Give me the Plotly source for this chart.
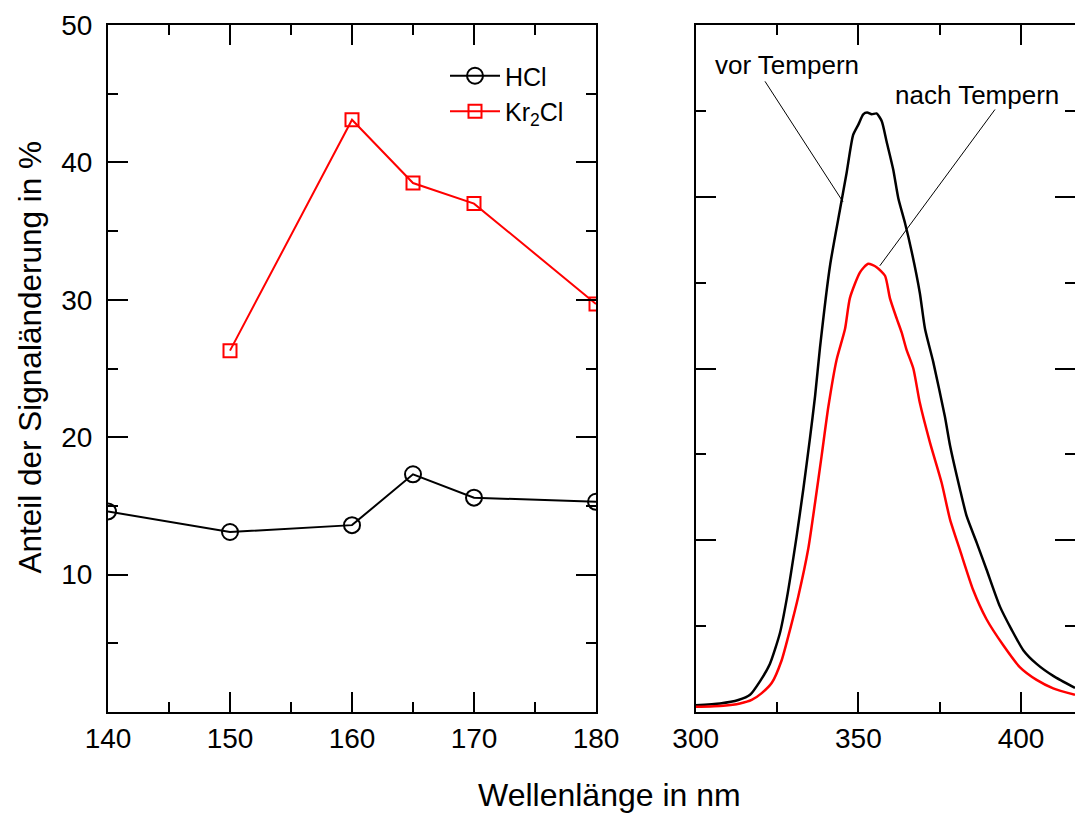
import plotly.graph_objects as go

# left panel: share of signal change (%)
hcl_wl = [140, 150, 160, 165, 170, 180]
hcl_pct = [14.6, 13.1, 13.6, 17.3, 15.6, 15.3]
kr2cl_wl = [150, 160, 165, 170, 180]
kr2cl_pct = [26.3, 43.1, 38.5, 37.0, 29.7]

# right panel: emission spectra before / after annealing
vor_wl = [300, 307.5, 313.1, 316.7, 319.8, 322.8, 325.9, 328, 331, 333.1, 335.1, 336.7,
          338.2, 341.3, 344.4, 346.4, 348.4, 350, 351.5, 352.7, 354.1, 355.6, 357.2,
          358.7, 360.7, 362.3, 364.3, 366.4, 368.9, 370.5, 373, 376.6, 378.2, 381.2,
          383.3, 386.4, 389.4, 393.5, 397.1, 400.7, 404.8, 409.9, 416.6]
vor_int = [0.04, 0.05, 0.07, 0.10, 0.18, 0.28, 0.46, 0.66, 1.02, 1.30, 1.59, 1.84,
           2.12, 2.60, 2.93, 3.14, 3.36, 3.42, 3.48, 3.49, 3.48, 3.485, 3.44,
           3.32, 3.16, 2.99, 2.85, 2.68, 2.44, 2.23, 2.04, 1.72, 1.55, 1.30,
           1.14, 0.985, 0.83, 0.615, 0.48, 0.36, 0.28, 0.21, 0.14]
nach_wl = [300, 308.5, 313.6, 317.2, 320.3, 323.4, 326.4, 329, 331.5, 334.6, 336.7,
           338.7, 340.8, 343.3, 345.9, 347.4, 350.5, 353, 355.6, 358.2, 359.7, 361.8,
           363.3, 364.8, 366.9, 368.9, 372, 375.6, 378.2, 381.2, 385.3, 389.4, 394.5,
           399.7, 404.8, 409.9, 416.6]
nach_int = [0.03, 0.037, 0.05, 0.07, 0.11, 0.17, 0.30, 0.48, 0.67, 0.95, 1.22,
            1.49, 1.78, 2.05, 2.23, 2.41, 2.56, 2.61, 2.59, 2.54, 2.41, 2.29,
            2.21, 2.11, 2.00, 1.80, 1.57, 1.335, 1.12, 0.945, 0.71, 0.54, 0.39,
            0.26, 0.187, 0.138, 0.10]

FONT = "Liberation Sans, Arial, sans-serif"
W, H = 1075, 813
ML, MR, MT, MB = 108, 0, 25, 101
pw, ph = W - ML - MR, H - MT - MB

fig = go.Figure()

fig.add_trace(go.Scatter(x=hcl_wl, y=hcl_pct, name="HCl", mode="lines+markers",
                         line=dict(color="black", width=2),
                         marker=dict(symbol="circle-open", size=16, color="black",
                                     line=dict(width=2, color="black")),
                         xaxis="x", yaxis="y"))
fig.add_trace(go.Scatter(x=kr2cl_wl, y=kr2cl_pct, name="Kr<sub>2</sub>Cl", mode="lines+markers",
                         line=dict(color="#ff0000", width=2),
                         marker=dict(symbol="square-open", size=13, color="#ff0000",
                                     line=dict(width=2, color="#ff0000")),
                         xaxis="x", yaxis="y"))
fig.add_trace(go.Scatter(x=vor_wl, y=vor_int, mode="lines", showlegend=False,
                         line=dict(color="black", width=2.5, shape="spline", smoothing=0.6),
                         xaxis="x2", yaxis="y2"))
fig.add_trace(go.Scatter(x=nach_wl, y=nach_int, mode="lines", showlegend=False,
                         line=dict(color="#ff0000", width=2.5, shape="spline", smoothing=0.6),
                         xaxis="x2", yaxis="y2"))

ax_common = dict(showline=True, linecolor="black", linewidth=2, mirror="ticks",
                 ticks="inside", ticklen=20, tickwidth=2, tickcolor="black",
                 showgrid=False, zeroline=False, automargin=False,
                 tickfont=dict(family=FONT, size=28, color="black"))
minor_common = dict(ticks="inside", ticklen=10, tickwidth=2, tickcolor="black")

left_end = (596 - ML) / pw
right_start = (695.7 - ML) / pw

fig.update_layout(
    width=W, height=H, autosize=False,
    margin=dict(l=ML, r=MR, t=MT, b=MB, autoexpand=False),
    paper_bgcolor="white", plot_bgcolor="white",
    font=dict(family=FONT, color="black"),
    xaxis=dict(domain=[0, left_end], range=[140, 180], tickvals=[140, 150, 160, 170, 180],
               minor=dict(dtick=5, **minor_common),
               ticklabelstandoff=0, anchor="y", **ax_common),
    yaxis=dict(domain=[0, 1], range=[0, 50], tickvals=[10, 20, 30, 40, 50],
               minor=dict(dtick=5, **minor_common),
               ticklabelstandoff=8, anchor="x", **ax_common),
    xaxis2=dict(domain=[right_start, 1], range=[300, 416.6], tickvals=[300, 350, 400],
                minor=dict(dtick=25, **minor_common),
                ticklabelstandoff=0, anchor="y2", **ax_common),
    yaxis2=dict(domain=[0, 1], range=[0, 4], tickvals=[0, 1, 2, 3, 4], showticklabels=False,
                minor=dict(dtick=0.5, **minor_common),
                anchor="x2", **ax_common),
    legend=dict(x=(445 - ML) / pw, y=(712 - 53) / ph, xanchor="left", yanchor="top",
                bgcolor="rgba(0,0,0,0)", font=dict(family=FONT, size=25, color="black"),
                itemwidth=50, tracegroupgap=0),
    showlegend=True,
)

fig.add_annotation(text="Anteil der Signaländerung in %", xref="paper", yref="paper",
                   x=(29 - ML) / pw, y=(712 - 357.5) / ph, textangle=-90, showarrow=False,
                   xanchor="center", yanchor="middle",
                   font=dict(family=FONT, size=31.5, color="black"))
fig.add_annotation(text="Wellenlänge in nm", xref="paper", yref="paper",
                   x=(609 - ML) / pw, y=(712 - 795) / ph, showarrow=False,
                   xanchor="center", yanchor="middle",
                   font=dict(family=FONT, size=32, color="black"))

# curve labels with thin leader lines
fig.add_annotation(text="vor Tempern", xref="x2", yref="y2", x=328.1, y=3.77,
                   showarrow=False, font=dict(family=FONT, size=26, color="black"))
fig.add_shape(type="line", xref="x2", yref="y2", x0=321.3, y0=3.672, x1=345.3, y1=2.97,
              line=dict(color="black", width=1))
fig.add_annotation(text="nach Tempern", xref="x2", yref="y2", x=386.4, y=3.59,
                   showarrow=False, font=dict(family=FONT, size=26, color="black"))
fig.add_shape(type="line", xref="x2", yref="y2", x0=392.0, y0=3.508, x1=356.6, y1=2.598,
              line=dict(color="black", width=1))

# drop the default page margin so the figure fills the 1075x813 window exactly
fix_page = ("document.body.style.margin='0';document.body.style.overflow='hidden';"
            "Plotly.relayout(document.getElementById('{plot_id}'), {width: %d, height: %d});" % (W, H))

fig.write_html("out.html", post_script=fix_page, config={"displayModeBar": False})
